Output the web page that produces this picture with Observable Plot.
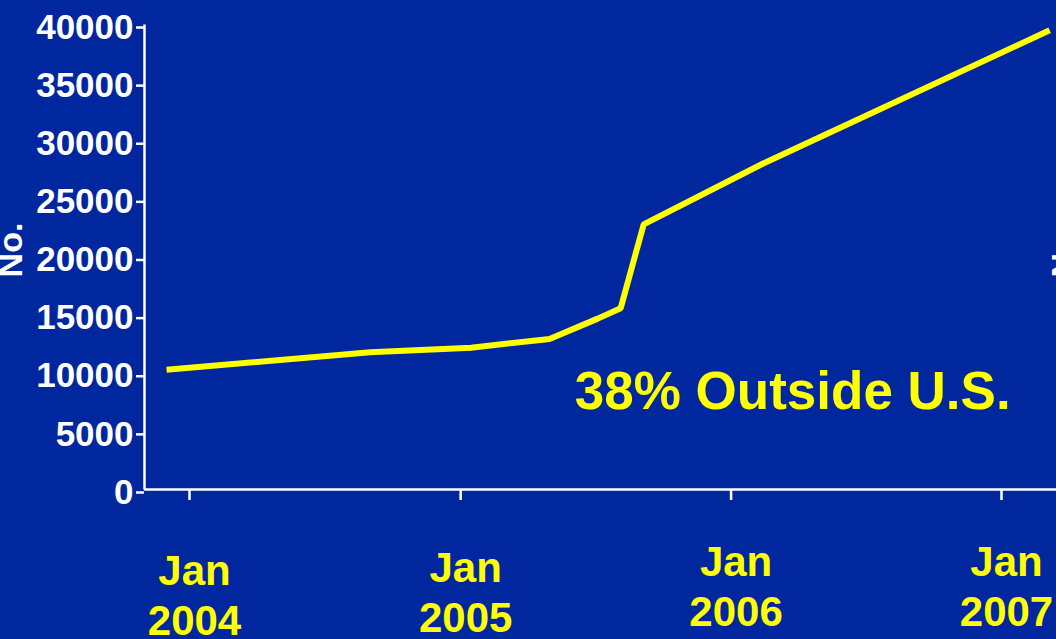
<!DOCTYPE html>
<html>
<head>
<meta charset="utf-8">
<script src="https://cdn.jsdelivr.net/npm/d3@7"></script>
<script src="https://cdn.jsdelivr.net/npm/@observablehq/plot@0.6"></script>
<style>
  html, body { margin: 0; padding: 0; background: #00279E; overflow: hidden; }
  #chart { width: 1056px; height: 639px; }
</style>
</head>
<body>
<div id="chart"></div>
<script>
// ---- data ----
const dates = ["2003-12-01", "2004-09-01", "2005-01-15", "2005-05-01", "2005-07-05", "2005-08-05", "2005-09-05", "2006-02-12", "2007-03-07"];
const counts = [10300, 11800, 12200, 12950, 14700, 15600, 22800, 28000, 39500];

const xTickDates = ["2004-01-01", "2005-01-01", "2006-01-01", "2007-01-01"];
const xTickLabels = ["Jan\n2004", "Jan\n2005", "Jan\n2006", "Jan\n2007"];
const yTicks = [0, 5000, 10000, 15000, 20000, 25000, 30000, 35000, 40000];
const yLabel = "No.";
const annotation = "38% Outside U.S.";
const annotationAt = {date: "2005-06-04", value: 6900};

// ---- build ----
const series = dates.map((d, i) => ({date: new Date(d), count: counts[i]}));
const xTicks = xTickDates.map(d => new Date(d));
const labelByTime = new Map(xTicks.map((d, i) => [+d, xTickLabels[i]]));

const W = 1056, H = 639;
const mL = 144, mR = 0, mT = 24, mB = 150;
const fw = W - mL - mR, fh = H - mT - mB;
const font = "'Liberation Sans', Arial, Helvetica, sans-serif";

// the reference's date labels sit at slightly different heights
const xLabelText = (ticks, pad) => Plot.axisX(ticks, {
  tickSize: 0, tickPadding: pad, fontSize: 42, lineHeight: 1.19, dx: 5,
  tickFormat: d => labelByTime.get(+d), fill: "#FFFF00", label: null
});

const chart = Plot.plot({
  width: W,
  height: H,
  marginLeft: mL,
  marginRight: mR,
  marginTop: mT,
  marginBottom: mB,
  style: {background: "#00279E", color: "white", fontFamily: font, fontWeight: "bold", overflow: "hidden"},
  x: {type: "utc", domain: [xTicks[0], xTicks[3]], range: [189, 1001], label: null},
  y: {domain: [0, 40000], label: null},
  marks: [
    // y axis line (left edge of frame only)
    Plot.frame({stroke: "white", strokeWidth: 2.5, strokeDasharray: `0 ${2 * fw + fh} ${fh}`}),
    // x axis line
    Plot.ruleY([0], {stroke: "white", strokeWidth: 2.5}),
    Plot.axisY(yTicks, {
      tickSize: 8, tickPadding: 3, fontSize: 35, dy: 3,
      tickFormat: d3.format("d"), color: "white", strokeWidth: 2.5, label: null
    }),
    Plot.axisX(xTicks, {tickSize: 11, tickFormat: () => "", stroke: "white", strokeWidth: 2.5, label: null}),
    xLabelText(xTicks.slice(0, 1), 60),
    xLabelText(xTicks.slice(1, 2), 57),
    xLabelText(xTicks.slice(2), 51),
    Plot.text([yLabel], {frameAnchor: "left", textAnchor: "middle", rotate: -90, dx: 11 - mL, dy: -7, fontSize: 34, fill: "white"}),
    Plot.text([yLabel], {frameAnchor: "left", textAnchor: "middle", rotate: -90, dx: 1064 - mL, dy: -7, fontSize: 34, fill: "white"}),
    Plot.line(series, {
      x: "date", y: "count", stroke: "#FFFF00", strokeWidth: 6,
      strokeLinecap: "butt", strokeLinejoin: "miter"
    }),
    Plot.text([annotation], {
      x: () => new Date(annotationAt.date), y: () => annotationAt.value,
      textAnchor: "start", lineAnchor: "bottom", fontSize: 53, fill: "#FFFF00"
    })
  ]
});

document.getElementById("chart").appendChild(chart);
</script>
</body>
</html>
